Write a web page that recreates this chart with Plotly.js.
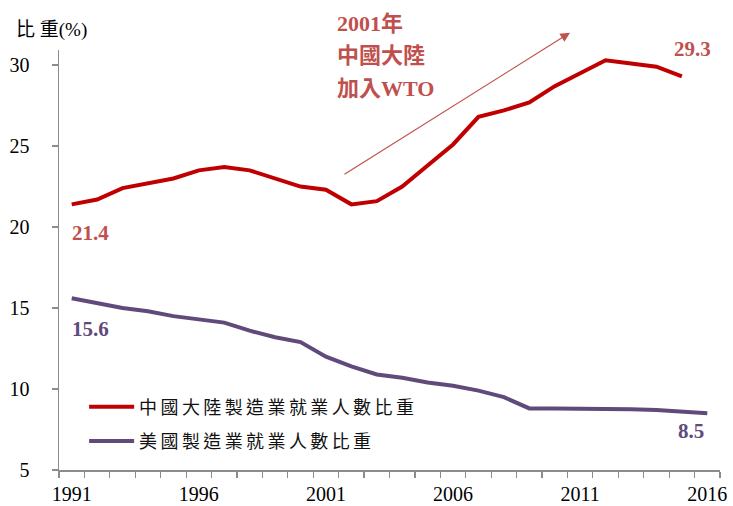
<!DOCTYPE html>
<html>
<head>
<meta charset="utf-8">
<script src="https://cdn.plot.ly/plotly-3.0.1.min.js"></script>
<style>
html,body{margin:0;padding:0;background:#fff;}
#chart{width:733px;height:506px;}
.legendtext{letter-spacing:3.4px;}
</style>
</head>
<body>
<div id="chart"></div>
<script>
const years = [1991,1992,1993,1994,1995,1996,1997,1998,1999,2000,2001,2002,2003,2004,2005,2006,2007,2008,2009,2010,2011,2012,2013,2014,2015,2016];
const chinaShare = [21.4,21.7,22.4,22.7,23.0,23.5,23.7,23.5,23.0,22.5,22.3,21.4,21.6,22.5,23.8,25.1,26.8,27.2,27.7,28.7,29.5,30.3,30.1,29.9,29.3,null];
const usShare = [15.6,15.3,15.0,14.8,14.5,14.3,14.1,13.6,13.2,12.9,12.0,11.4,10.9,10.7,10.4,10.2,9.9,9.5,8.8,8.8,8.8,8.8,8.75,8.7,8.6,8.5];
const seriesNames = ['中國大陸製造業就業人數比重','美國製造業就業人數比重'];
const xTickYears = [1991,1996,2001,2006,2011,2016];
const yTicks = [5,10,15,20,25,30];
const noteLines = ['2001年','中國大陸','加入WTO'];

const RED = '#C00000', PURPLE = '#604A7B', LABELRED = '#C0504D';
const serif = 'Liberation Serif, Times New Roman, serif';
const cjk = 'Liberation Serif, Noto Sans CJK TC, serif';

const boundaries = years.map(y => y - 0.5).concat([years[years.length-1] + 0.5]);
const lastChina = chinaShare.reduce((a, v, i) => v != null ? i : a, 0);

const traces = [
  {x: years, y: chinaShare, name: seriesNames[0], mode: 'lines', type: 'scatter',
   line: {color: RED, width: 4}, legendgroup: 'a', connectgaps: false},
  {x: years, y: usShare, name: seriesNames[1], mode: 'lines', type: 'scatter',
   line: {color: PURPLE, width: 4}, legendgroup: 'b'}
];

const annotations = [
  {xref:'paper', yref:'paper', x:-0.068, y:1.048, xanchor:'left', yanchor:'middle', showarrow:false,
   text:'比 重(%)', font:{family:cjk, size:19, color:'#000'}},
  {x: years[0], y: chinaShare[0], xanchor:'left', yanchor:'middle', xshift:-2, yshift:-29, showarrow:false,
   text: chinaShare[0].toFixed(1), font:{family:serif, size:21, color:LABELRED, weight:'bold'}},
  {x: years[0], y: usShare[0], xanchor:'left', yanchor:'middle', xshift:-2, yshift:-31, showarrow:false,
   text: usShare[0].toFixed(1), font:{family:serif, size:21, color:PURPLE, weight:'bold'}},
  {x: years[lastChina], y: chinaShare[lastChina], xanchor:'center', yanchor:'middle', xshift:11, yshift:27, showarrow:false,
   text: chinaShare[lastChina].toFixed(1), font:{family:serif, size:21, color:LABELRED, weight:'bold'}},
  {x: years[years.length-1], y: usShare[usShare.length-1], xanchor:'center', yanchor:'middle', xshift:-16, yshift:-18, showarrow:false,
   text: usShare[usShare.length-1].toFixed(1), font:{family:serif, size:21, color:PURPLE, weight:'bold'}},
  {x: 2010.6, y: 32.0, ax: 2001.67, ay: 23.2, axref:'x', ayref:'y', showarrow:true, text:'',
   arrowhead:2, arrowsize:1.6, arrowwidth:1.2, arrowcolor:LABELRED}
];
const noteY = [1.064, 0.988, 0.9095];
noteLines.forEach((t, i) => annotations.push({
  xref:'paper', yref:'paper', x:0.4175, y:noteY[i], xanchor:'left', yanchor:'middle', showarrow:false,
  text: t, font:{family:cjk, size:22, color:LABELRED, weight:'bold'}
}));

const layout = {
  width: 733, height: 506,
  margin: {l: 59, r: 13, t: 50, b: 36},
  paper_bgcolor: '#fff', plot_bgcolor: '#fff',
  showlegend: true,
  legend: {x: 0.038, y: 0.194, xanchor:'left', yanchor:'top', traceorder:'grouped', tracegroupgap: 8,
    itemwidth: 45,
    font:{family:'Noto Sans CJK TC, sans-serif', size:18, color:'#111'}, bgcolor:'rgba(0,0,0,0)'},
  xaxis: {
    range: [years[0]-0.5, years[years.length-1]+0.5],
    tickmode:'array', tickvals: xTickYears, ticktext: xTickYears.map(String),
    ticks:'', showgrid:false, zeroline:false,
    showline:true, linecolor:'#8c8c8c', linewidth:1.5,
    ticklabelstandoff: 5,
    tickfont:{family:serif, size:20, color:'#000'},
    minor:{tickmode:'array', tickvals: boundaries, ticks:'outside', ticklen:6, tickcolor:'#8c8c8c', tickwidth:1.2, showgrid:false}
  },
  yaxis: {
    range: [5, 30.93],
    tickmode:'array', tickvals: yTicks, ticktext: yTicks.map(String),
    ticks:'outside', ticklen:6, tickcolor:'#8c8c8c', tickwidth:1.2,
    showgrid:false, zeroline:false,
    showline:true, linecolor:'#8c8c8c', linewidth:1.5,
    ticklabelstandoff: 18,
    tickfont:{family:serif, size:20, color:'#000'}
  },
  annotations: annotations
};

Plotly.newPlot('chart', traces, layout, {displayModeBar:false, staticPlot:true});
</script>
</body>
</html>
